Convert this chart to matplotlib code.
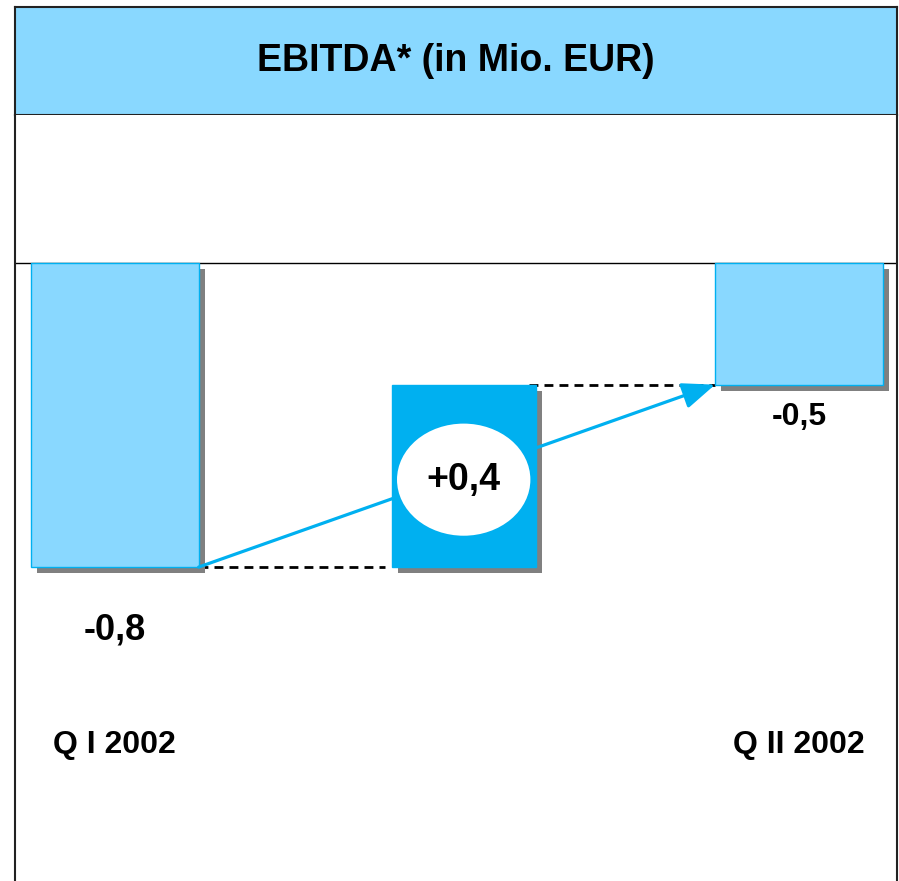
import matplotlib
matplotlib.use("Agg")
import matplotlib.pyplot as plt
import matplotlib.patheffects as pe
from matplotlib.patches import Ellipse

# ---- data (bar levels as drawn, labels as printed) ----
categories = ["Q I 2002", "", "Q II 2002"]
start_value = -0.80      # level of Q I bar
end_value = -0.32        # level of Q II bar (as drawn)
value_labels = ["-0,8", "+0,4", "-0,5"]
title = "EBITDA* (in Mio. EUR)"

LIGHT = "#89D8FF"
DARK = "#00B0F0"
SHADOW = "#808080"

plt.rcParams["font.family"] = ["Liberation Sans", "DejaVu Sans"]
plt.rcParams["font.weight"] = "bold"

W, H = 899, 881
fig = plt.figure(figsize=(W / 100, H / 100), dpi=100)

# title band
tax = fig.add_axes([15 / W, (H - 115) / H, 882 / W, 108 / H])
tax.set_facecolor(LIGHT)
tax.set_xticks([]); tax.set_yticks([])
for s in tax.spines.values():
    s.set_linewidth(1.5); s.set_color("#222222")
tax.text(0.5, 0.5, title, ha="center", va="center", fontsize=27,
         fontweight="bold", transform=tax.transAxes)

# main panel
ax = fig.add_axes([15 / W, 0, 882 / W, (H - 115) / H])
ax.set_xlim(-0.292, 2.287)
ax.set_ylim(-1.626, 0.3895)
ax.set_xticks([]); ax.set_yticks([])
ax.spines["top"].set_visible(False)
ax.spines["bottom"].set_visible(False)
for side in ("left", "right"):
    ax.spines[side].set_linewidth(1.5); ax.spines[side].set_color("#222222")
ax.axhline(0, color="black", lw=1.0, zorder=1)

x = [0, 1.02, 2]
widths = [0.49, 0.42, 0.49]
delta = end_value - start_value
heights = [start_value, delta, end_value]
bottoms = [0, start_value, 0]
colors = [LIGHT, DARK, LIGHT]
edges = [DARK, DARK, DARK]

shadow = [pe.SimplePatchShadow(offset=(4.5, -4.5), shadow_rgbFace=SHADOW, alpha=1.0),
          pe.Normal()]
bars = ax.bar(x, heights, width=widths, bottom=bottoms, color=colors,
              edgecolor=edges, linewidth=1.0, zorder=2)
for b in bars:
    b.set_path_effects(shadow)

# dashed connectors
q1_right = x[0] + widths[0] / 2
mid_left = x[1] - widths[1] / 2
mid_right = x[1] + widths[1] / 2
q2_left = x[2] - widths[2] / 2
ax.plot([q1_right, mid_left - 0.02], [start_value, start_value], ls=(0, (3.2, 2.2)),
        color="black", lw=2.0, zorder=1)
ax.plot([mid_right - 0.02, q2_left], [end_value, end_value], ls=(0, (3.2, 2.2)),
        color="black", lw=2.0, zorder=1)

# arrow from Q I to Q II
ax.annotate("", xy=(q2_left, end_value), xytext=(q1_right, start_value),
            arrowprops=dict(arrowstyle="-|>,head_length=2.0,head_width=0.8",
                            color=DARK, lw=2.3, shrinkA=0, shrinkB=0),
            zorder=3)

# ellipse with change label
mid_y = (start_value + end_value) / 2
ax.add_patch(Ellipse((x[1], mid_y - 0.01), 0.39, 0.295, facecolor="white",
                     edgecolor="none", zorder=4))
ax.text(x[1], mid_y - 0.01, value_labels[1], ha="center", va="center", fontsize=27,
        fontweight="bold", zorder=5)

# value labels below bars
ax.annotate(value_labels[0], (x[0], start_value), xytext=(0, -45),
            textcoords="offset points", ha="center", va="center",
            fontsize=26, fontweight="bold")
ax.annotate(value_labels[2], (x[2], end_value), xytext=(0, -23),
            textcoords="offset points", ha="center", va="center",
            fontsize=23, fontweight="bold")

# category labels
for xi, cat in zip(x, categories):
    if cat:
        ax.text(xi, -1.268, cat, ha="center", va="center", fontsize=23,
                fontweight="bold")

fig.savefig("out.png", dpi=100)
